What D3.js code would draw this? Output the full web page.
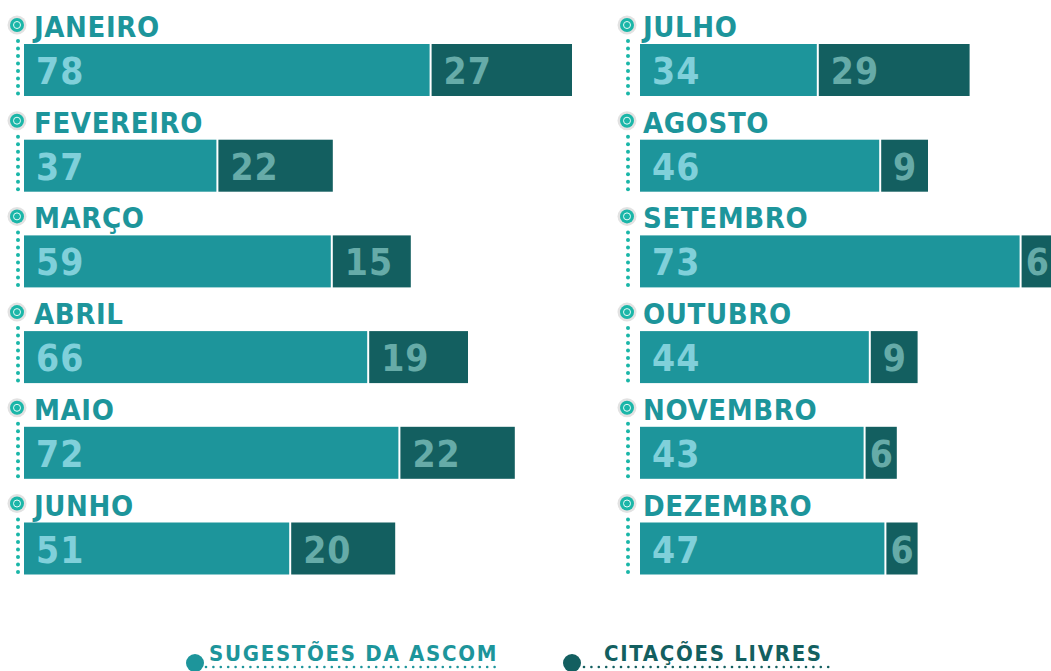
<!DOCTYPE html>
<html>

<head>
  <meta charset="utf-8" />
  <title>Sugestões x Citações</title>
  <style>
    body {
      margin: 0;
      background: #fff;
    }

    text {
      font-family: "DejaVu Sans", sans-serif;
      font-stretch: condensed;
      font-weight: bold;
    }
  </style>
  <script src="https://cdnjs.cloudflare.com/ajax/libs/d3/7.8.5/d3.min.js"></script>
</head>

<body>
  <div id="chartArea"></div>
  <script>
    var months = ['JANEIRO', 'FEVEREIRO', 'MARÇO', 'ABRIL', 'MAIO', 'JUNHO',
      'JULHO', 'AGOSTO', 'SETEMBRO', 'OUTUBRO', 'NOVEMBRO', 'DEZEMBRO'];
    var sugestoes = [78, 37, 59, 66, 72, 51, 34, 46, 73, 44, 43, 47];
    var citacoes = [27, 22, 15, 19, 22, 20, 29, 9, 6, 9, 6, 6];
    var seriesNames = ['SUGESTÕES DA ASCOM', 'CITAÇÕES LIVRES'];

    var w = 1051,
      h = 671;
    var colA = '#1d959b',
      colB = '#135f60',
      dotCol = '#1ab6a8';

    var data = months.map(function (m, i) {
      return { month: m, a: sugestoes[i], b: citacoes[i], col: Math.floor(i / 6), row: i % 6 };
    });

    // about 5.2 px per unit
    var xScale = d3.scaleLinear().domain([0, 100]).range([0, 520]);
    var colX = d3.scaleOrdinal().domain([0, 1]).range([24, 640]);
    var markerOff = [-7, -13],
      labelOff = [10, 3];
    var rowY = d3.scaleBand().domain(d3.range(6)).range([44, 44 + 6 * 95.7]).paddingInner(0);
    var barH = 52;

    var svg = d3.select('#chartArea').append('svg')
      .attr('width', w)
      .attr('height', h);

    var g = svg.selectAll('g.month')
      .data(data)
      .enter()
      .append('g')
      .attr('class', 'month')
      .attr('transform', d => 'translate(' + colX(d.col) + ',' + rowY(d.row) + ')');

    // dotted guide
    g.each(function (d) {
      d3.select(this).selectAll('circle.dot')
        .data(d3.range(8))
        .enter()
        .append('circle')
        .attr('class', 'dot')
        .attr('cx', markerOff[d.col] + 1)
        .attr('cy', k => -3 + k * 7.5)
        .attr('r', 2)
        .attr('fill', dotCol);
    });

    // marker
    g.append('circle').attr('cx', d => markerOff[d.col]).attr('cy', -19).attr('r', 9.5).attr('fill', '#e2e2e2');
    g.append('circle').attr('cx', d => markerOff[d.col]).attr('cy', -19).attr('r', 7).attr('fill', dotCol);
    g.append('circle').attr('cx', d => markerOff[d.col]).attr('cy', -19).attr('r', 3.5)
      .attr('fill', 'none').attr('stroke', '#e8fbf8').attr('stroke-width', 1);

    g.append('text')
      .attr('x', d => labelOff[d.col])
      .attr('y', -7)
      .attr('font-size', 29)
      .attr('letter-spacing', 0.6)
      .attr('fill', colA)
      .text(d => d.month);

    g.append('rect')
      .attr('x', 0)
      .attr('y', 0)
      .attr('width', d => xScale(d.a))
      .attr('height', barH)
      .attr('fill', colA);

    g.append('rect')
      .attr('x', d => xScale(d.a) + 2)
      .attr('y', 0)
      .attr('width', d => xScale(d.b))
      .attr('height', barH)
      .attr('fill', colB);

    g.append('text')
      .attr('x', 12)
      .attr('y', 40)
      .attr('font-size', 37)
      .attr('letter-spacing', 1)
      .attr('fill', '#80d0da')
      .text(d => d.a);

    // small dark bars: keep the number inside
    g.append('text')
      .attr('x', d => xScale(d.a) + 2 + Math.max(4, Math.min(12, (xScale(d.b) - 23) / 2)))
      .attr('y', 40)
      .attr('font-size', 37)
      .attr('letter-spacing', 1)
      .attr('fill', '#66aba8')
      .text(d => d.b);

    // legend
    var legX = d3.scaleOrdinal().domain([0, 1]).range([195, 572]);
    var legTextX = [209, 604];
    var legLineX = [[206, 500], [584, 833]];
    var legend = svg.selectAll('g.legend')
      .data(seriesNames)
      .enter()
      .append('g')
      .attr('class', 'legend');

    legend.append('circle')
      .attr('cx', (d, i) => legX(i))
      .attr('cy', 663)
      .attr('r', 9)
      .attr('fill', (d, i) => i ? colB : colA);

    legend.append('text')
      .attr('x', (d, i) => legTextX[i])
      .attr('y', 661)
      .attr('font-size', 22)
      .attr('letter-spacing', 1.7)
      .attr('fill', (d, i) => i ? colB : colA)
      .text(d => d);

    legend.each(function (d, i) {
      var x0 = legLineX[i][0], x1 = legLineX[i][1];
      d3.select(this).selectAll('circle.ld')
        .data(d3.range(x0, x1, 7.4))
        .enter()
        .append('circle')
        .attr('class', 'ld')
        .attr('cx', x => x)
        .attr('cy', 667)
        .attr('r', 1.3)
        .attr('fill', i ? colB : colA);
    });
  </script>
</body>

</html>
